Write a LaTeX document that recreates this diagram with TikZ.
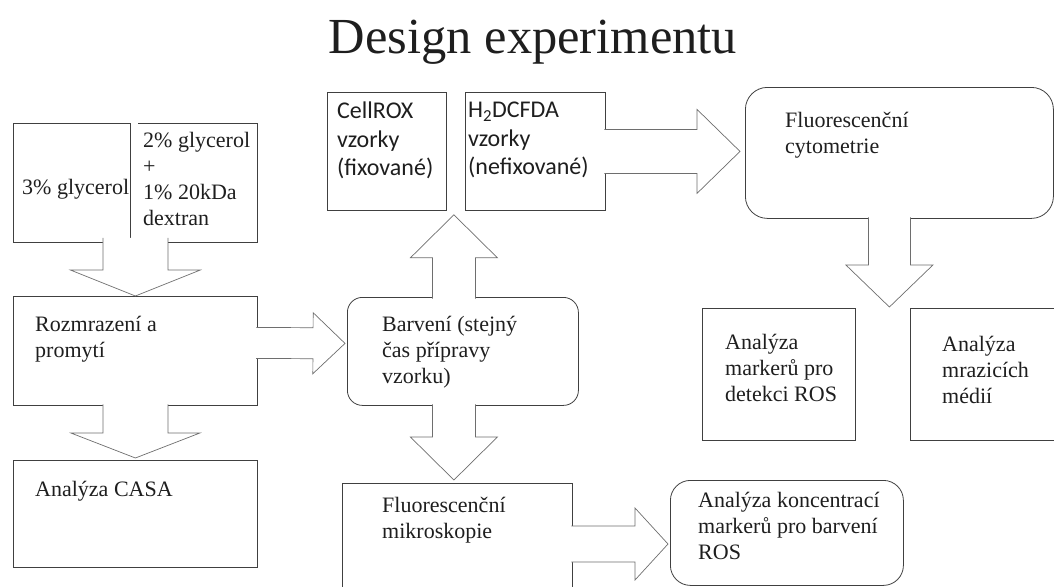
\documentclass[tikz,border=0pt]{standalone}
\usepackage{fontspec}
\setmainfont{Liberation Serif}
\newfontfamily\calibrifont{Carlito}
\usetikzlibrary{calc,positioning}
\definecolor{boxline}{HTML}{404040}
\definecolor{arrline}{HTML}{6E6E6E}
\definecolor{ink}{HTML}{1E1E1E}
\tikzset{
  box/.style     = {draw=boxline, line width=0.8pt, inner sep=0pt, anchor=north west},
  rbox/.style    = {box, rounded corners=#1},
  txt/.style     = {inner sep=0pt, anchor=north west, align=left, text=ink,
                    font=\fontsize{22}{26}\selectfont},
  sanstxt/.style = {txt, font=\calibrifont\fontsize{24}{28.5}\selectfont},
  bigarrow/.style= {draw=arrline, fill=white, line width=0.7pt, line join=miter},
}
% block arrow: #1 tail, #2 tip, #3 half shaft, #4 half head, #5 head length
\newcommand{\blockarrow}[5]{%
  \coordinate (ba-t) at #1;
  \coordinate (ba-p) at #2;
  \coordinate (ba-b) at ($(ba-p)!#5!(ba-t)$);
  \filldraw[bigarrow] ($(ba-t)!#3!90:(ba-p)$) -- ($(ba-b)!#3!90:(ba-p)$)
    -- ($(ba-b)!#4!90:(ba-p)$) -- (ba-p) -- ($(ba-b)!#4!-90:(ba-p)$)
    -- ($(ba-b)!#3!-90:(ba-p)$) -- ($(ba-t)!#3!-90:(ba-p)$);
}

\begin{document}
\begin{tikzpicture}[x=1pt, y=-1pt]
  \useasboundingbox (0,0) rectangle (1054,586);
  \clip (0,0) rectangle (1054,586);

  \node[anchor=base, text=ink, font=\fontsize{50.5}{56}\selectfont] (title) at (533,53) {Design experimentu};

  % left column
  \node[box, minimum width=117pt, minimum height=119pt,
        label={[txt, xshift=9pt, yshift=-56pt]north west:3\% glycerol}] (gly3) at (13,123) {};
  \node[box, draw=none, minimum width=119pt, minimum height=119pt,
        label={[txt, xshift=5pt, yshift=-9pt]north west:{2\% glycerol\\+\\1\% 20kDa\\dextran}}] (gly2) at (138,123) {};
  \draw[boxline, line width=0.8pt] (gly2.north west) -- (gly2.north east)
       -- (gly2.south east) -- (gly2.south west);
  \node[box, minimum width=244pt, minimum height=109pt,
        label={[txt, xshift=22pt, yshift=-20pt]north west:{Rozmrazení a\\promytí}}] (rozm) at (13,296) {};
  \node[box, minimum width=244pt, minimum height=107pt,
        label={[txt, xshift=22pt, yshift=-21pt]north west:Analýza CASA}] (casa) at (13,460) {};

  % middle column
  \node[box, minimum width=119pt, minimum height=118pt,
        label={[sanstxt, xshift=10pt, yshift=-10pt]north west:{CellROX\\vzorky\\(fixované)}}] (cellrox) at (327,92) {};
  \node[box, minimum width=140pt, minimum height=118pt,
        label={[sanstxt, xshift=3pt, yshift=-10pt]north west:{H\textsubscript{2}DCFDA\\vzorky\\(nefixované)}}] (h2dcfda) at (465,92) {};
  \node[rbox=15pt, minimum width=231pt, minimum height=108pt,
        label={[txt, xshift=35pt, yshift=-19pt]north west:{Barvení (stejný\\čas přípravy\\vzorku)}}] (barv) at (347,297) {};
  \node[box, minimum width=230pt, minimum height=117pt,
        label={[txt, xshift=40pt, yshift=-14pt]north west:{Fluorescenční\\mikroskopie}}] (mikro) at (342,483) {};

  % right column
  \node[rbox=22pt, minimum width=308pt, minimum height=131pt,
        label={[txt, xshift=40pt, yshift=-25pt]north west:{Fluorescenční\\cytometrie}}] (cyto) at (745,87) {};
  \node[box, minimum width=153pt, minimum height=132pt,
        label={[txt, xshift=23pt, yshift=-26pt]north west:{Analýza\\markerů pro\\detekci ROS}}] (mark) at (702,308) {};
  \node[box, minimum width=160pt, minimum height=132pt,
        label={[txt, xshift=32pt, yshift=-28pt]north west:{Analýza\\mrazicích\\médií}}] (mraz) at (910,308) {};
  \node[rbox=20pt, minimum width=233pt, minimum height=105pt,
        label={[txt, xshift=28pt, yshift=-12pt]north west:{Analýza koncentrací\\markerů pro barvení\\ROS}}] (konc) at (670,480) {};

  % block arrows
  \coordinate (gap) at ($(cellrox.south east)!0.5!(h2dcfda.south west)$);
  \blockarrow{($(rozm.north |- gly3.south)+(0,-5)$)}{(rozm.north)}{32.5pt}{65pt}{26pt}
  \blockarrow{($(rozm.south)+(0,-1.5)$)}{($(casa.north)+(0,-2)$)}{32.5pt}{64.5pt}{25pt}
  \blockarrow{($(rozm.east)+(-1.5,-8)$)}{($(barv.west)+(-2,-8)$)}{15.5pt}{30.5pt}{32pt}
  \blockarrow{($(gap |- barv.north)+(-2,1.5)$)}{($(gap)+(-2,4)$)}{21.5pt}{43.5pt}{43pt}
  \blockarrow{($(barv.south)+(-9,-1.5)$)}{($(ba-t |- mikro.north)+(0,-3)$)}{21.5pt}{43.5pt}{43pt}
  \blockarrow{($(h2dcfda.east)+(-1.5,0)$)}{($(cyto.west)+(-5,-1.5)$)}{22pt}{42pt}{43pt}
  \blockarrow{($(cyto.south)+(-10,-1.5)$)}{($(ba-t |- mark.north)+(0,-1)$)}{21pt}{43.5pt}{42pt}
  \blockarrow{($(mikro.north east)+(-1.5,61)$)}{($(konc.west |- ba-t)+(-2,0)$)}{18pt}{36pt}{33pt}
\end{tikzpicture}
\end{document}
